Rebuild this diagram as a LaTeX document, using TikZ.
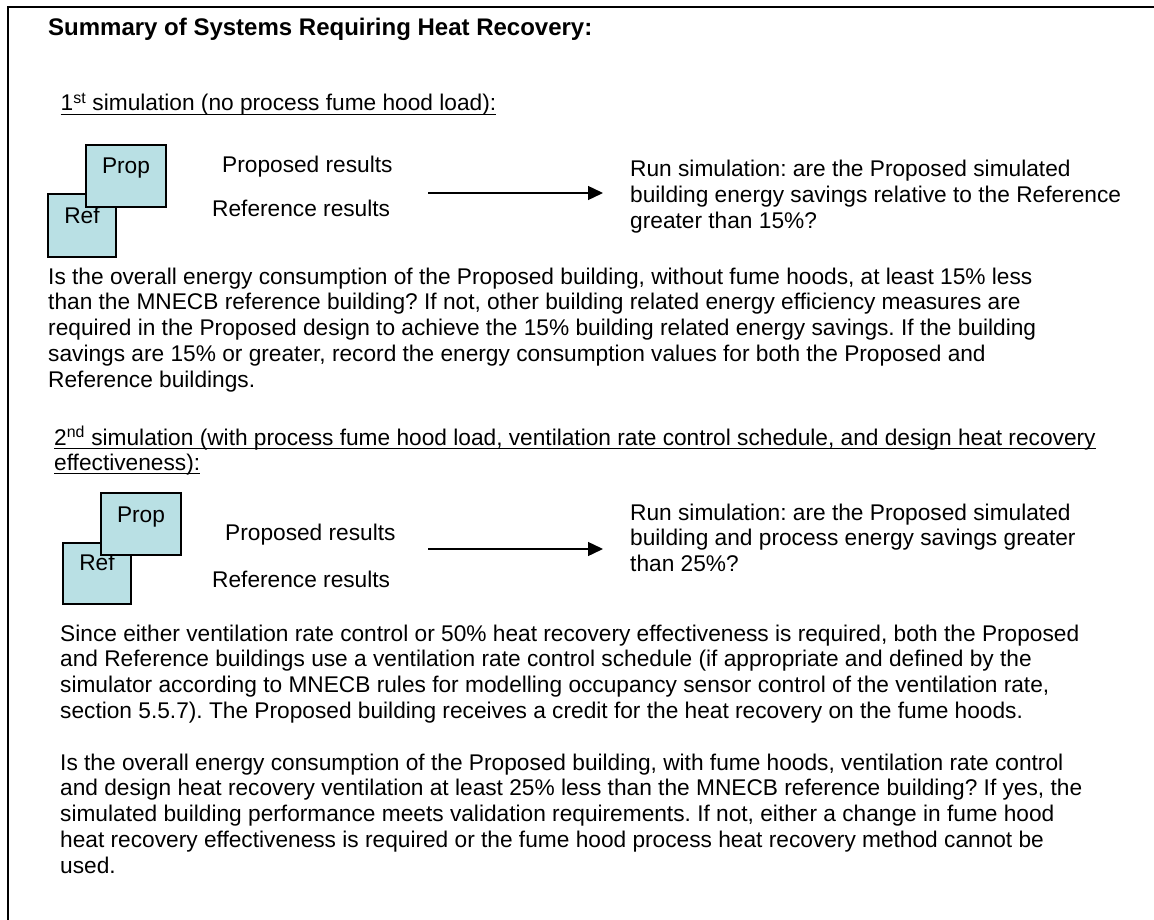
\documentclass[tikz,border=0pt]{standalone}
\usepackage{fontspec}
\setmainfont{Liberation Sans}
\usetikzlibrary{arrows.meta}
\frenchspacing
\definecolor{boxfill}{RGB}{185,224,228}
\tikzset{
  txt/.style={anchor=base west, inner sep=0pt, font=\fontsize{22.7}{25.9}\selectfont},
  ttl/.style={anchor=base west, inner sep=0pt, font=\fontsize{24}{27}\selectfont\bfseries},
  simbox/.style={draw=black, line width=2pt, fill=boxfill, anchor=north west, inner sep=0pt},
  boxlbl/.style={anchor=base, inner sep=0pt, font=\fontsize{22.7}{25.9}\selectfont},
  uline/.style={line width=1.6pt},
  flow/.style={line width=1.4pt, -{Triangle[length=15pt,width=14pt]}},
  frame/.style={line width=2pt}
}
\newcommand{\para}[1]{\parbox[t]{1100pt}{\fontsize{22.7}{25.9}\selectfont\frenchspacing\raggedright #1}}
\newcommand{\runpara}[1]{\parbox[t]{520pt}{\fontsize{22.7}{25.6}\selectfont\frenchspacing\raggedright #1}}
\begin{document}
\begin{tikzpicture}[x=1pt,y=-1pt]
\useasboundingbox (0,0) rectangle (1154,920);
\fill[white] (0,0) rectangle (1154,920);
\draw[frame] (7.7,7.5) rectangle (1180,950);

% title
\node[ttl] (title) at (48,36) {Summary of Systems Requiring Heat Recovery:};

% first simulation
\node[txt] (h1) at (60.5,111) {1\textsuperscript{st} simulation (no process fume hood load):};
\draw[uline] ([yshift=-3.5pt]h1.base west) -- ([yshift=-3.5pt]h1.base east);

\node[simbox, minimum width=68pt, minimum height=63pt] (ref1) at (47,193) {};
\node[boxlbl] (ref1t) at ([yshift=-30.5pt]ref1.north) {Ref};
\node[simbox, minimum width=80pt, minimum height=62pt] (prop1) at (85,144) {};
\node[boxlbl] (prop1t) at ([yshift=-30pt]prop1.north) {Prop};

\node[txt] (pr1) at (222,173) {Proposed results};
\node[txt] (rr1) at (212,217) {Reference results};

\coordinate (a1s) at (428,193);
\coordinate (a1e) at (603,193);
\draw[flow] (a1s) -- (a1e);

\node[txt] (run1) at (630,177) {\runpara{Run simulation: are the Proposed simulated\\building energy savings relative to the Reference\\greater than 15\%?}};

\node[txt] (p1) at (48,284) {\para{Is the overall energy consumption of the Proposed building, without fume hoods, at least 15\% less\\than the MNECB reference building? If not, other building related energy efficiency measures are\\required in the Proposed design to achieve the 15\% building related energy savings. If the building\\savings are 15\% or greater, record the energy consumption values for both the Proposed and\\Reference buildings.}};

% second simulation
\node[txt] (h2a) at (54,445) {2\textsuperscript{nd} simulation (with process fume hood load, ventilation rate control schedule, and design heat recovery};
\draw[uline] ([yshift=-3.5pt]h2a.base west) -- ([yshift=-3.5pt]h2a.base east);
\node[txt] (h2b) at (54,470) {effectiveness):};
\draw[uline] ([yshift=-3.5pt]h2b.base west) -- ([yshift=-3.5pt]h2b.base east);

\node[simbox, minimum width=68pt, minimum height=61pt] (ref2) at (62,542) {};
\node[boxlbl] (ref2t) at ([yshift=-28pt]ref2.north) {Ref};
\node[simbox, minimum width=80pt, minimum height=62pt] (prop2) at (100,492) {};
\node[boxlbl] (prop2t) at ([yshift=-30pt]prop2.north) {Prop};

\node[txt] (pr2) at (225,540) {Proposed results};
\node[txt] (rr2) at (212,587) {Reference results};

\coordinate (a2s) at (428,549);
\coordinate (a2e) at (603,549);
\draw[flow] (a2s) -- (a2e);

\node[txt] (run2) at (630,520) {\runpara{Run simulation: are the Proposed simulated\\building and process energy savings greater\\than 25\%?}};

\node[txt] (p2) at (60,641) {\para{Since either ventilation rate control or 50\% heat recovery effectiveness is required, both the Proposed\\and Reference buildings use a ventilation rate control schedule (if appropriate and defined by the\\simulator according to MNECB rules for modelling occupancy sensor control of the ventilation rate,\\section 5.5.7). The Proposed building receives a credit for the heat recovery on the fume hoods.}};

\node[txt] (p3) at (60,770) {\para{Is the overall energy consumption of the Proposed building, with fume hoods, ventilation rate control\\and design heat recovery ventilation at least 25\% less than the MNECB reference building? If yes, the\\simulated building performance meets validation requirements. If not, either a change in fume hood\\heat recovery effectiveness is required or the fume hood process heat recovery method cannot be\\used.}};
\end{tikzpicture}
\end{document}
